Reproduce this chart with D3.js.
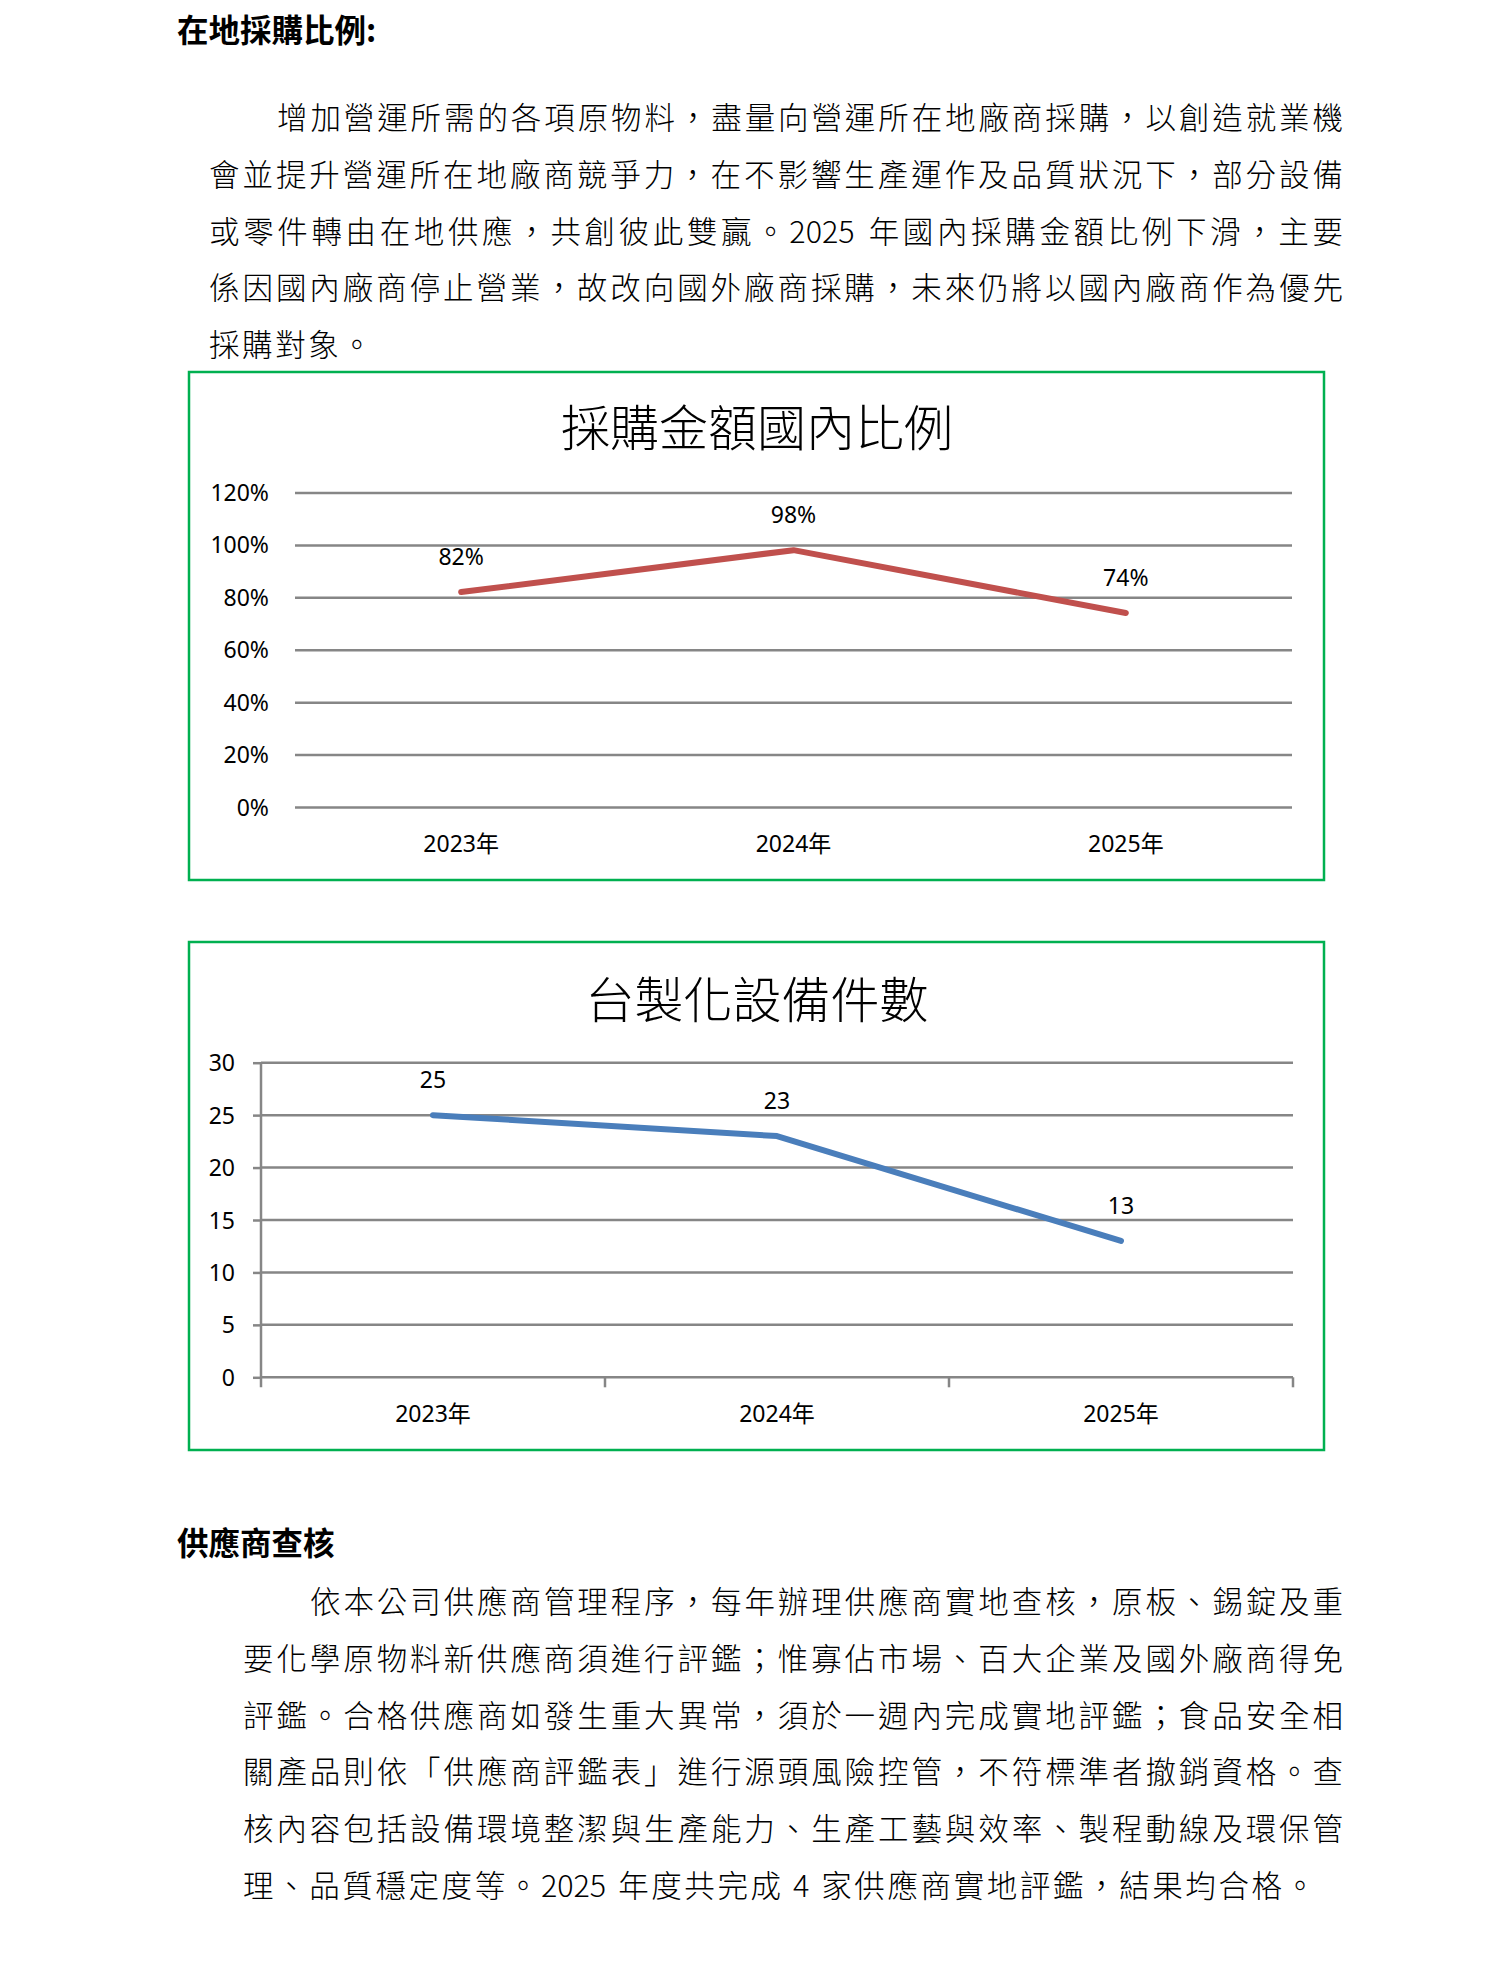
<!DOCTYPE html>
<html lang="zh-Hant-TW">
<head>
<meta charset="utf-8">
<script src="https://cdn.jsdelivr.net/npm/d3@7"></script>
<style>
  body { margin: 0; background: #fff; }
  svg { display: block; }
</style>
</head>
<body>
<script>
// chart data
const years = ["2023年", "2024年", "2025年"];
const domesticShare = [0.82, 0.98, 0.74];
const shareTicks = [0, 0.2, 0.4, 0.6, 0.8, 1.0, 1.2];
const localEquipment = [25, 23, 13];
const equipmentTicks = [0, 5, 10, 15, 20, 25, 30];

// page text
const introHeading = "在地採購比例:";
const introLines = [
  "增加營運所需的各項原物料，盡量向營運所在地廠商採購，以創造就業機",
  "會並提升營運所在地廠商競爭力，在不影響生產運作及品質狀況下，部分設備",
  "或零件轉由在地供應，共創彼此雙贏。2025 年國內採購金額比例下滑，主要",
  "係因國內廠商停止營業，故改向國外廠商採購，未來仍將以國內廠商作為優先",
  "採購對象。"
];
const auditHeading = "供應商查核";
const auditLines = [
  "依本公司供應商管理程序，每年辦理供應商實地查核，原板、錫錠及重",
  "要化學原物料新供應商須進行評鑑；惟寡佔市場、百大企業及國外廠商得免",
  "評鑑。合格供應商如發生重大異常，須於一週內完成實地評鑑；食品安全相",
  "關產品則依「供應商評鑑表」進行源頭風險控管，不符標準者撤銷資格。查",
  "核內容包括設備環境整潔與生產能力、生產工藝與效率、製程動線及環保管",
  "理、品質穩定度等。2025 年度共完成 4 家供應商實地評鑑，結果均合格。"
];

const width = 1504, height = 1964;
const cjk = "'Noto Sans CJK TC', 'Noto Sans CJK SC', sans-serif";
const latin = "'Noto Sans', 'Noto Sans CJK TC', sans-serif";
const gridColor = "#868686";

const svg = d3.select("body").append("svg")
    .attr("lang", "zh-Hant-TW")
    .attr("width", width)
    .attr("height", height);

// one line of body text; CJK characters are spread, digit runs stay together
function textLine(str, x0, y, target) {
    const units = str.match(/[0-9A-Za-z%.]+|./gu);
    const t = svg.append("text")
        .attr("y", y)
        .attr("dominant-baseline", "central")
        .attr("font-family", cjk)
        .attr("font-weight", 300)
        .attr("font-size", 30.5)
        .attr("fill", "#000");
    const spans = units.map(u => t.append("tspan").text(u));
    const widths = spans.map(s => s.node().getComputedTextLength());
    const natural = d3.sum(widths);
    const gap = target ? (target - natural) / (units.length - 1) : 2.6;
    let x = x0;
    spans.forEach((s, i) => {
        s.attr("x", x).attr("y", y);
        x += widths[i] + gap;
    });
}

// paragraph block: first line indented, full lines justified, last line natural
function paragraph(heading, headY, lines, top, indentX, leftX) {
    const rightX = 1343, lineH = 56.8;
    svg.append("text")
        .attr("x", 177)
        .attr("y", headY)
        .attr("dominant-baseline", "central")
        .attr("font-family", cjk)
        .attr("font-weight", 700)
        .attr("font-size", 31.5)
        .text(heading);

    lines.forEach((d, i) => {
        const x0 = i === 0 ? indentX : leftX;
        const last = i === lines.length - 1;
        textLine(d, x0, top + i * lineH, last ? null : rightX - x0);
    });
}

paragraph(introHeading, 28, introLines, 116, 277, 209);
paragraph(auditHeading, 1541, auditLines, 1600, 310, 243);

function frame(top, bottom, title, titleY) {
    svg.append("rect")
        .attr("x", 189)
        .attr("y", top)
        .attr("width", 1135)
        .attr("height", bottom - top)
        .attr("fill", "none")
        .attr("stroke", "#00B050")
        .attr("stroke-width", 2.5);

    svg.append("text")
        .attr("x", 757)
        .attr("y", titleY)
        .attr("text-anchor", "middle")
        .attr("dominant-baseline", "central")
        .attr("font-family", cjk)
        .attr("font-weight", 300)
        .attr("font-size", 49)
        .text(title);
}

function drawLine(x, y, values, color, fmt) {
    const line = d3.line()
        .x((d, i) => x(years[i]) + x.bandwidth() / 2)
        .y(d => y(d));

    svg.append("path")
        .datum(values)
        .attr("d", line)
        .attr("fill", "none")
        .attr("stroke", color)
        .attr("stroke-width", 6)
        .attr("stroke-linecap", "round")
        .attr("stroke-linejoin", "round");

    svg.append("g").selectAll("text")
        .data(values)
        .enter().append("text")
        .attr("x", (d, i) => x(years[i]) + x.bandwidth() / 2)
        .attr("y", d => y(d) - 36)
        .attr("text-anchor", "middle")
        .attr("dominant-baseline", "central")
        .attr("font-family", latin)
        .attr("font-size", 23)
        .text(d => fmt(d));
}

function xLabels(x, yPos) {
    svg.append("g").selectAll("text")
        .data(years)
        .enter().append("text")
        .attr("x", d => x(d) + x.bandwidth() / 2)
        .attr("y", yPos)
        .attr("text-anchor", "middle")
        .attr("dominant-baseline", "central")
        .attr("font-family", latin)
        .attr("font-size", 23)
        .text(d => d);
}

// chart 1: 採購金額國內比例
frame(372, 880, "採購金額國內比例", 424);

const x1 = d3.scaleBand().domain(years).range([295, 1292]);
const y1 = d3.scaleLinear().domain([0, 1.2]).range([807, 492.5]);

const axis1 = svg.append("g")
    .attr("transform", "translate(295,0)")
    .call(d3.axisLeft(y1)
        .tickValues(shareTicks)
        .tickFormat(d3.format(".0%"))
        .tickSize(-997)
        .tickPadding(26));
axis1.select(".domain").remove();
axis1.selectAll(".tick line")
    .attr("stroke", gridColor)
    .attr("stroke-width", 2.5);
axis1.selectAll(".tick text")
    .attr("font-family", latin)
    .attr("font-size", 23)
    .attr("fill", "#000")
    .attr("dy", "0.35em");

xLabels(x1, 843);
drawLine(x1, y1, domesticShare, "#C0504D", d3.format(".0%"));

// chart 2: 台製化設備件數
frame(942, 1450, "台製化設備件數", 996);

const x2 = d3.scaleBand().domain(years).range([261, 1293]);
const y2 = d3.scaleLinear().domain([0, 30]).range([1377.3, 1062.7]);

svg.append("g").selectAll("line")
    .data(equipmentTicks)
    .enter().append("line")
    .attr("x1", 261)
    .attr("x2", 1293)
    .attr("y1", d => y2(d))
    .attr("y2", d => y2(d))
    .attr("stroke", gridColor)
    .attr("stroke-width", 2.5);

const axis2 = svg.append("g")
    .attr("transform", "translate(261,0)")
    .call(d3.axisLeft(y2)
        .tickValues(equipmentTicks)
        .tickSize(8)
        .tickSizeOuter(0)
        .tickPadding(18));
axis2.select(".domain").remove();
axis2.selectAll(".tick line")
    .attr("stroke", gridColor)
    .attr("stroke-width", 2.5);
axis2.selectAll(".tick text")
    .attr("font-family", latin)
    .attr("font-size", 23)
    .attr("fill", "#000")
    .attr("dy", "0.35em");

// vertical axis line and category boundary ticks
svg.append("line")
    .attr("x1", 261).attr("x2", 261)
    .attr("y1", y2(30)).attr("y2", y2(0) + 10)
    .attr("stroke", gridColor)
    .attr("stroke-width", 2.5);

const bounds = years.map(d => x2(d)).concat([x2.range()[1]]);
svg.append("g").selectAll("line")
    .data(bounds.slice(1))
    .enter().append("line")
    .attr("x1", d => d).attr("x2", d => d)
    .attr("y1", y2(0)).attr("y2", y2(0) + 10)
    .attr("stroke", gridColor)
    .attr("stroke-width", 2.5);

xLabels(x2, 1413);
drawLine(x2, y2, localEquipment, "#4A7EBB", d => d);
</script>
</body>
</html>
